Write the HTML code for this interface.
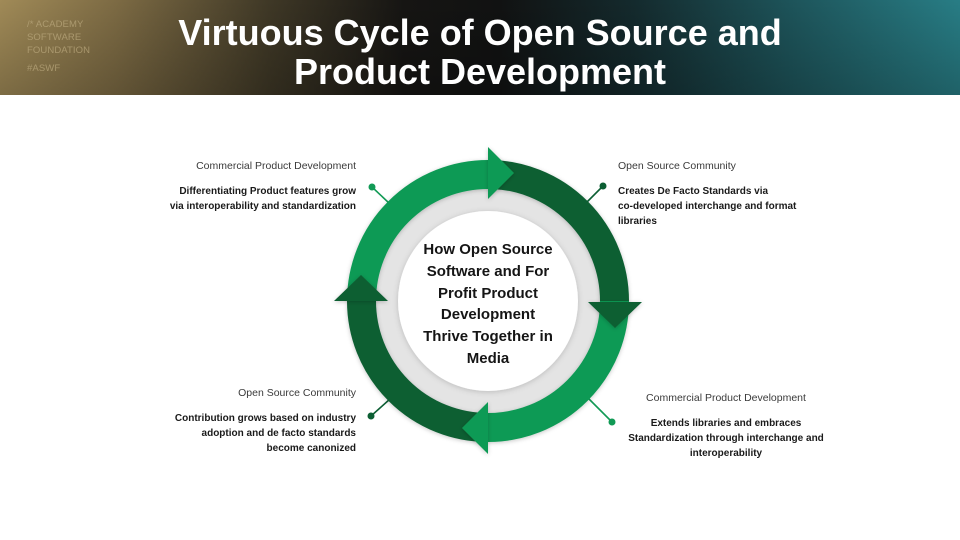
<!DOCTYPE html>
<html>
<head>
<meta charset="utf-8">
<style>
  html,body{margin:0;padding:0;}
  body{width:960px;height:540px;position:relative;overflow:hidden;background:#ffffff;font-family:"Liberation Sans",Arial,sans-serif;}
  .hdr{position:absolute;left:0;top:0;width:960px;height:95px;
    background:
      linear-gradient(180deg, rgba(0,0,0,0) 0%, rgba(0,0,0,0.22) 100%),
      linear-gradient(90deg, #a08a57 0%, #7d6b44 12%, #3f3826 28%, #161513 42%, #111212 52%, #142a2d 66%, #1d5359 82%, #287d85 100%);}
  .logo{position:absolute;left:27px;top:18px;color:#b9a77c;opacity:0.75;font-size:9.5px;line-height:13px;letter-spacing:0.1px;}
  .title{position:absolute;left:0;top:13px;width:960px;text-align:center;color:#fff;font-weight:bold;font-size:36px;line-height:39px;}
  .g{position:absolute;font-size:10.5px;line-height:14px;color:#3a3a3a;white-space:nowrap;}
  .b{position:absolute;font-size:10px;line-height:15px;color:#1a1a1a;font-weight:bold;white-space:nowrap;}
  .r{text-align:right;}
  .c{text-align:center;}
  .center{position:absolute;left:388px;top:239px;width:200px;text-align:center;font-weight:bold;font-size:15px;line-height:21.8px;color:#151515;}
</style>
</head>
<body>
<div class="hdr"></div>
<div class="logo">/* ACADEMY<br>SOFTWARE<br>FOUNDATION<br><span style="display:inline-block;margin-top:5px">#ASWF</span></div>
<div class="title">Virtuous Cycle of Open Source and<br>Product Development</div>

<svg width="960" height="540" style="position:absolute;left:0;top:0" xmlns="http://www.w3.org/2000/svg">
  <defs>
    <filter id="sh" x="-20%" y="-20%" width="140%" height="140%">
      <feDropShadow dx="0" dy="1" stdDeviation="2" flood-color="#000" flood-opacity="0.22"/>
    </filter>
    <filter id="sh2" x="-20%" y="-20%" width="140%" height="140%">
      <feDropShadow dx="0" dy="1" stdDeviation="3" flood-color="#000" flood-opacity="0.18"/>
    </filter>
  </defs>
  <!-- gray ring and white center -->
  <circle cx="488" cy="301" r="113" fill="#e4e4e4"/>
  <circle cx="488" cy="301" r="90" fill="#ffffff" filter="url(#sh2)"/>

  <!-- connectors -->
  <g stroke-width="1.6">
    <line x1="372" y1="187" x2="390" y2="204" stroke="#119a55"/>
    <circle cx="372" cy="187" r="3.5" fill="#119a55"/>
    <line x1="603" y1="186" x2="587" y2="202" stroke="#0c5e33"/>
    <circle cx="603" cy="186" r="3.5" fill="#0c5e33"/>
    <line x1="371" y1="416" x2="390" y2="399" stroke="#0c5e33"/>
    <circle cx="371" cy="416" r="3.5" fill="#0c5e33"/>
    <line x1="612" y1="422" x2="588" y2="398" stroke="#119a55"/>
    <circle cx="612" cy="422" r="3.5" fill="#119a55"/>
  </g>

  <!-- arcs -->
  <g fill="none" stroke-width="29" filter="url(#sh)">
    <path d="M 361.5 301 A 126.5 126.5 0 0 1 488 174.5" stroke="#119a55"/>
    <path d="M 488 174.5 A 126.5 126.5 0 0 1 614.5 301" stroke="#0c5e33"/>
    <path d="M 614.5 301 A 126.5 126.5 0 0 1 488 427.5" stroke="#119a55"/>
    <path d="M 488 427.5 A 126.5 126.5 0 0 1 361.5 301" stroke="#0c5e33"/>
  </g>
  <!-- heads -->
  <g filter="url(#sh)">
    <polygon points="488,147 488,199 514,173" fill="#119a55"/>
    <polygon points="588,302 642,302 615,328" fill="#0c5e33"/>
    <polygon points="488,402 488,454 462,428" fill="#119a55"/>
    <polygon points="334,301 388,301 361,275" fill="#0c5e33"/>
  </g>
</svg>

<div class="center">How Open Source<br>Software and For<br>Profit Product<br>Development<br>Thrive Together in<br>Media</div>

<!-- Top left -->
<div class="g r" style="right:604px;top:159px;">Commercial Product Development</div>
<div class="b r" style="right:604px;top:183.5px;">Differentiating Product features grow<br>via interoperability and standardization</div>

<!-- Top right -->
<div class="g" style="left:618px;top:159px;">Open Source Community</div>
<div class="b" style="left:618px;top:184px;">Creates De Facto Standards via<br>co-developed interchange and format<br>libraries</div>

<!-- Bottom left -->
<div class="g r" style="right:604px;top:386px;">Open Source Community</div>
<div class="b r" style="right:604px;top:410.5px;">Contribution grows based on industry<br>adoption and de facto standards<br>become canonized</div>

<!-- Bottom right -->
<div class="g c" style="left:606px;width:240px;top:391px;">Commercial Product Development</div>
<div class="b c" style="left:606px;width:240px;top:415.5px;">Extends libraries and embraces<br>Standardization through interchange and<br>interoperability</div>
</body>
</html>
